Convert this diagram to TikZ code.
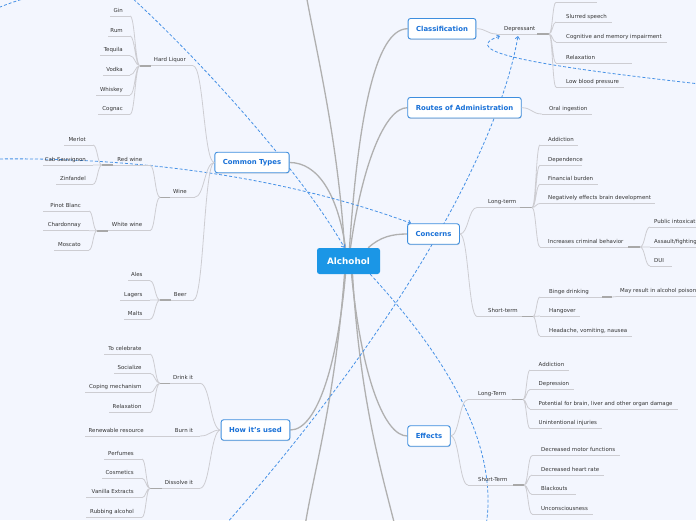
\documentclass[tikz,border=0pt]{standalone}
\usepackage{fontspec}
\setmainfont{DejaVu Sans}
\usetikzlibrary{calc,arrows.meta,shadows}
\definecolor{bgc}{RGB}{243,246,254}
\definecolor{nodeblue}{RGB}{27,150,230}
\definecolor{ttxt}{RGB}{24,112,215}
\definecolor{tborder}{RGB}{62,142,222}
\definecolor{relc}{RGB}{70,145,230}
\definecolor{mainc}{RGB}{176,176,176}
\definecolor{subc}{RGB}{205,205,210}
\definecolor{stubc}{RGB}{168,168,168}
\definecolor{lbltxt}{RGB}{51,51,51}
\pgfdeclarelayer{bgl}\pgfdeclarelayer{lines}\pgfsetlayers{bgl,lines,main}
\tikzset{
 topic/.style={draw=tborder, line width=0.9pt, fill=white, rounded corners=2.5pt, text=ttxt,
   font=\fontsize{6.9}{8}\selectfont\bfseries, inner xsep=8pt, inner ysep=0pt, minimum height=20.5pt,
   drop shadow={opacity=0.25, shadow xshift=0.4pt, shadow yshift=-0.9pt}},
 rootn/.style={fill=nodeblue, rounded corners=2.5pt, text=white, font=\fontsize{8.8}{10}\selectfont\bfseries,
   minimum width=63pt, minimum height=26pt, inner sep=0pt},
 lbl/.style={text=lbltxt, font=\fontsize{5.45}{6.5}\selectfont, inner sep=0pt},
 ul/.style={draw=subc, line width=0.8pt},
 br/.style={draw=subc, line width=0.8pt, to path={let \p1=(\tikztostart), \p2=(\tikztotarget) in
   .. controls (0.5*\x1+0.5*\x2,\y1) and (0.5*\x1+0.5*\x2,\y2) .. (\tikztotarget)}},
 stub/.style={draw=stubc, line width=1.6pt},
 mainln/.style={draw=mainc, line width=1.3pt},
 relln/.style={draw=relc, line width=0.8pt, dash pattern=on 3pt off 2pt},
 reltip/.style={-{Straight Barb[length=2.5pt,width=4.5pt]}},
}
\newcommand\rleaf[6]{%
  \coordinate (#1-a) at (#2,#3);
  \coordinate (#1-b) at (#4,#3);
  \draw[ul] (#1-a) -- (#1-b);
  \node[lbl,anchor=base west] (#1) at (#5,#3-3.8) {#6};}
\newcommand\lleaf[6]{%
  \coordinate (#1-a) at (#2,#3);
  \coordinate (#1-b) at (#4,#3);
  \draw[ul] (#1-a) -- (#1-b);
  \node[lbl,anchor=base east] (#1) at (#5,#3-3.8) {#6};}
\begin{document}
\begin{tikzpicture}[x=1pt,y=-1pt]
\useasboundingbox (0,0) rectangle (696,520);
\begin{pgfonlayer}{bgl}
\fill[bgc] (0,0) rectangle (696,520);
\end{pgfonlayer}

% main topics
\node[rootn] (root) at (348.5,261) {Alchohol};
\node[topic] (cl) at (442,28.7) {Classification};
\node[topic] (ro) at (464.5,107.7) {Routes of Administration};
\node[topic] (co) at (433.5,234) {Concerns};
\node[topic] (ef) at (429,436) {Effects};
\node[topic] (ct) at (252,162.5) {Common Types};
\node[topic] (hw) at (255.5,430) {How it's used};

% Classification
\rleaf{dep}{497}{34}{549}{504}{Depressant}
\draw[stub] ([xshift=-12pt]dep-b) -- (dep-b);
\draw[br] (cl.east) to (dep-a);
\rleaf{dz}{556}{2.3}{597}{566}{}
\rleaf{ds}{556}{22}{612}{566}{Slurred speech}
\rleaf{dc}{556}{42}{667}{566}{Cognitive and memory impairment}
\rleaf{dr}{556}{63}{632}{566}{Relaxation}
\rleaf{dl}{556}{87}{624}{566}{Low blood pressure}
\draw[br] (dep-b) to (dz-a) (dep-b) to (ds-a) (dep-b) to (dc-a) (dep-b) to (dr-a) (dep-b) to (dl-a);

% Routes
\rleaf{oi}{542}{114}{592}{549}{Oral ingestion}
\draw[br] (ro.east) to (oi-a);

% Concerns
\rleaf{lt}{477}{207.5}{532}{488}{Long-term}
\draw[stub] ([xshift=-12pt]lt-b) -- (lt-b);
\rleaf{st}{477}{316.5}{533}{488}{Short-term}
\draw[stub] ([xshift=-11pt]st-b) -- (st-b);
\draw[br] (co.east) to (lt-a) (co.east) to (st-a);
\rleaf{ca}{540}{145}{578}{548}{Addiction}
\rleaf{cd}{540}{165}{582}{548}{Dependence}
\rleaf{cf}{540}{184.3}{598}{548}{Financial burden}
\rleaf{cn}{540}{203.5}{655}{548}{Negatively effects brain development}
\rleaf{cb}{540}{247}{640}{548}{Increases criminal behavior}
\draw[stub] ([xshift=-12pt]cb-b) -- (cb-b);
\draw[br] (lt-b) to (ca-a) (lt-b) to (cd-a) (lt-b) to (cf-a) (lt-b) to (cn-a) (lt-b) to (cb-a);
\rleaf{cp}{650}{227}{710}{654}{Public intoxication}
\rleaf{cs}{650}{247}{710}{654}{Assault/fighting}
\rleaf{cu}{650}{266}{672}{654}{DUI}
\draw[br] (cb-b) to (cp-a) (cb-b) to (cs-a) (cb-b) to (cu-a);
\rleaf{sb}{540}{297}{612}{549}{Binge drinking}
\draw[stub] ([xshift=-10pt]sb-b) -- (sb-b);
\rleaf{sm}{617}{296.5}{710}{620}{May result in alcohol poisoning}
\draw[br] (sb-b) to (sm-a);
\rleaf{sh}{540}{316}{580}{549}{Hangover}
\rleaf{sv}{540}{336}{632}{549}{Headache, vomiting, nausea}
\draw[br] (st-b) to (sb-a) (st-b) to (sh-a) (st-b) to (sv-a);

% Effects
\rleaf{el}{468}{399.5}{523}{478}{Long-Term}
\draw[stub] ([xshift=-11.5pt]el-b) -- (el-b);
\rleaf{es}{468}{485}{524}{478}{Short-Term}
\draw[stub] ([xshift=-11pt]es-b) -- (es-b);
\draw[br] (ef.east) to (el-a) (ef.east) to (es-a);
\rleaf{ea}{530}{370}{569}{538.5}{Addiction}
\rleaf{ed}{530}{389.5}{574}{538.5}{Depression}
\rleaf{ep}{530}{409}{678}{538.5}{Potential for brain, liver and other organ damage}
\rleaf{eu}{530}{428.5}{602}{538.5}{Unintentional injuries}
\draw[br] (el-b) to (ea-a) (el-b) to (ed-a) (el-b) to (ep-a) (el-b) to (eu-a);
\rleaf{em}{532}{455.7}{620}{541}{Decreased motor functions}
\rleaf{eh}{532}{475}{604}{541}{Decreased heart rate}
\rleaf{eb}{532}{494.5}{576}{541}{Blackouts}
\rleaf{ec}{532}{514}{593}{541}{Unconsciousness}
\draw[br] (es-b) to (em-a) (es-b) to (eh-a) (es-b) to (eb-a) (es-b) to (ec-a);

% Common Types
\lleaf{hl}{193}{65.7}{140}{186}{Hard Liquor}
\draw[stub] (hl-b) -- ([xshift=11pt]hl-b);
\lleaf{wi}{194.5}{197.3}{160}{187}{Wine}
\draw[stub] (wi-b) -- ([xshift=10pt]wi-b);
\lleaf{be}{193.5}{300}{160}{186.7}{Beer}
\draw[stub] (be-b) -- ([xshift=11pt]be-b);
\draw[br] (ct.west) to (hl-a) (ct.west) to (wi-a) (ct.west) to (be-a);
\lleaf{gin}{130}{16}{110}{123}{Gin}
\lleaf{rum}{130}{36}{108}{123}{Rum}
\lleaf{teq}{130}{55.7}{100}{123}{Tequila}
\lleaf{vod}{130}{75}{103}{123}{Vodka}
\lleaf{whi}{130}{95}{96}{123}{Whiskey}
\lleaf{cog}{130}{114.3}{98}{123}{Cognac}
\draw[br] (hl-b) to (gin-a) (hl-b) to (rum-a) (hl-b) to (teq-a) (hl-b) to (vod-a) (hl-b) to (whi-a) (hl-b) to (cog-a);
\lleaf{rw}{150}{165}{102}{142.5}{Red wine}
\draw[stub] (rw-b) -- ([xshift=11pt]rw-b);
\lleaf{ww}{150}{230.7}{97}{142.5}{White wine}
\draw[stub] (ww-b) -- ([xshift=11pt]ww-b);
\draw[br] (wi-b) to (rw-a) (wi-b) to (ww-a);
\lleaf{mer}{93}{145}{64}{86}{Merlot}
\lleaf{cab}{93}{165}{43}{86}{Cab Sauvignon}
\lleaf{zin}{93}{184.3}{56}{86}{Zinfandel}
\draw[br] (rw-b) to (mer-a) (rw-b) to (cab-a) (rw-b) to (zin-a);
\lleaf{pin}{89}{211}{43}{81}{Pinot Blanc}
\lleaf{cha}{89}{230.7}{43}{81}{Chardonnay}
\lleaf{mos}{89}{250}{54}{81}{Moscato}
\draw[br] (ww-b) to (pin-a) (ww-b) to (cha-a) (ww-b) to (mos-a);
\lleaf{ale}{150}{280.7}{127.7}{142.7}{Ales}
\lleaf{lag}{150}{300}{120}{142.7}{Lagers}
\lleaf{mal}{150}{319.3}{124}{142.7}{Malts}
\draw[br] (be-b) to (ale-a) (be-b) to (lag-a) (be-b) to (mal-a);

% How it's used
\lleaf{hd}{200}{383.3}{160}{193.3}{Drink it}
\draw[stub] (hd-b) -- ([xshift=10pt]hd-b);
\lleaf{hb}{200}{436}{152}{193.3}{Burn it}
\lleaf{hs}{200}{488.3}{150}{193.3}{Dissolve it}
\draw[stub] (hs-b) -- ([xshift=12pt]hs-b);
\draw[br] (hw.west) to (hd-a) (hw.west) to (hb-a) (hw.west) to (hs-a);
\lleaf{tc}{150}{354}{104}{141.7}{To celebrate}
\lleaf{so}{150}{373.3}{114}{141.7}{Socialize}
\lleaf{cm}{150}{392.7}{85}{141.7}{Coping mechanism}
\lleaf{rx}{150}{412.7}{109}{141.7}{Relaxation}
\draw[br] (hd-b) to (tc-a) (hd-b) to (so-a) (hd-b) to (cm-a) (hd-b) to (rx-a);
\lleaf{rr}{152}{436}{85}{144}{Renewable resource}
\draw[ul] (hb-b) -- (rr-a);
\lleaf{pf}{142}{459}{104}{134}{Perfumes}
\lleaf{cos}{142}{478.3}{101.7}{134}{Cosmetics}
\lleaf{van}{142}{497.7}{86}{134}{Vanilla Extracts}
\lleaf{rub}{142}{517.3}{86}{134}{Rubbing alcohol}
\draw[br] (hs-b) to (pf-a) (hs-b) to (cos-a) (hs-b) to (van-a) (hs-b) to (rub-a);

% free ends
\coordinate (offT) at (306,-6);
\coordinate (offB1) at (305,526);
\coordinate (offB2) at (395,526);
\coordinate (r1s) at (-10,11);
\coordinate (r1e) at (30,-3);
\coordinate (r2s) at (130,-4);
\coordinate (r3s) at (-5,159);
\coordinate (r4s) at (226,524);
\coordinate (r5e) at (486,526);
\coordinate (r6s) at (700,84);
\coordinate (depin1) at (500,36);
\coordinate (depin2) at (518,36);

\begin{pgfonlayer}{lines}
\draw[mainln] ([xshift=-4pt]root.north) .. controls (338,140) and (316,50) .. (offT);
\draw[mainln] ([xshift=-3pt]root.north) .. controls (338,195) and (318,162.5) .. (ct.east);
\draw[mainln] ([xshift=1pt]root.north) .. controls (358,120) and (375,28.7) .. (cl.west);
\draw[mainln] ([xshift=2pt]root.north) .. controls (362,165) and (385,107.7) .. (ro.west);
\draw[mainln] ([xshift=-12pt]root.north east) .. controls (380,237) and (392,234) .. (co.west);
\draw[mainln] ([xshift=-3pt]root.south) .. controls (338,360) and (318,430) .. (hw.east);
\draw[mainln] ([xshift=3pt]root.south) .. controls (362,380) and (385,436) .. (ef.west);
\draw[mainln] ([xshift=-4pt]root.south) .. controls (335,400) and (314,470) .. (offB1);
\draw[mainln] ([xshift=4pt]root.south) .. controls (360,400) and (381,470) .. (offB2);

\draw[relln] (r1s) .. controls (5,5) and (15,1) .. (r1e);
\draw[relln,reltip] (r2s) .. controls (200,60) and (300,170) .. ([xshift=-4pt]root.north);
\draw[relln,reltip] (r3s) .. controls (130,157) and (280,175) .. ([xshift=4pt]co.north west);
\draw[relln,reltip] (r4s) .. controls (410,315) and (500,140) .. (depin2);
\draw[relln] ([xshift=-10pt]root.south east) .. controls (440,350) and (500,440) .. (r5e);
\draw[relln,reltip] (r6s) .. controls (540,66) and (455,52) .. (depin1);
\end{pgfonlayer}
\end{tikzpicture}
\end{document}
